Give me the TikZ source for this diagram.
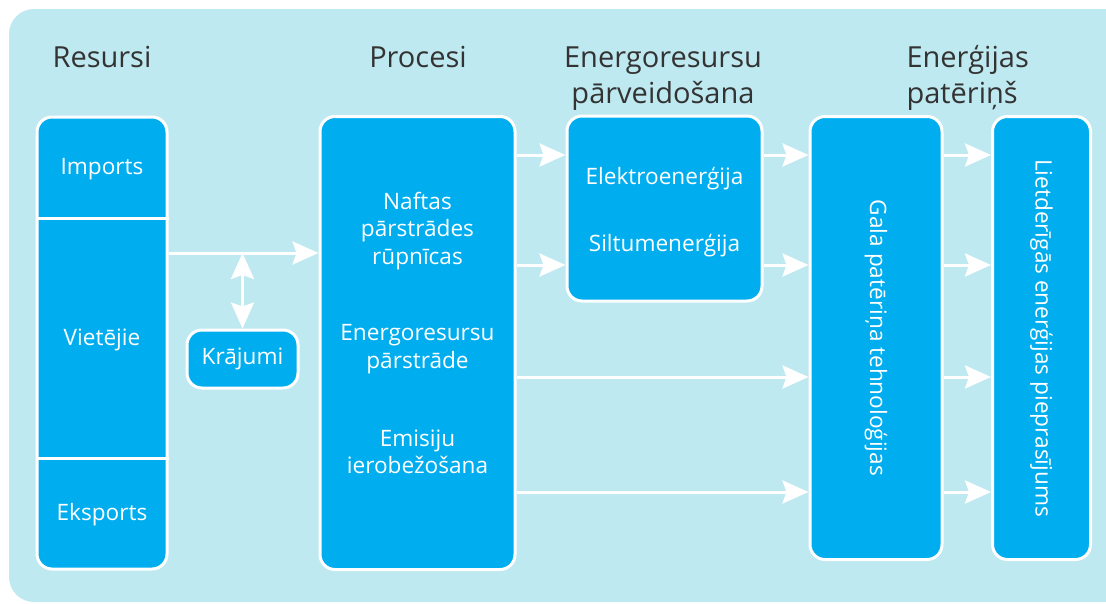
\documentclass[tikz,border=0pt]{standalone}
\usepackage{fontspec}
\setmainfont{Open Sans}
\usetikzlibrary{arrows.meta,positioning}
\definecolor{boxblue}{RGB}{0,174,239}
\definecolor{bgcyan}{RGB}{190,233,240}
\definecolor{headgray}{RGB}{51,51,51}

\begin{document}
\begin{tikzpicture}[x=1pt,y=-1pt]
      \tikzstyle{box} = [rectangle, rounded corners=15pt, draw=white, line width=3pt, fill=boxblue, inner sep=0pt]
      \tikzstyle{txt} = [text=white, align=center, font=\fontsize{22.6}{27.5}\selectfont]
      \tikzstyle{head} = [text=headgray, font=\fontsize{29}{36}\selectfont]
      \tikzstyle{arr} = [draw=white, line width=3pt, -{Stealth[length=26pt,width=23pt,inset=4pt]}]
      \tikzstyle{darr} = [draw=white, line width=3pt, {Stealth[length=26pt,width=23pt,inset=4pt]}-{Stealth[length=26pt,width=23pt,inset=4pt]}]

      \useasboundingbox (0,0) rectangle (1106,603);
      \fill[bgcyan, rounded corners=25pt] (9,9) rectangle (1130,602);

      % virsraksti
      \node[head] (h1) at (102,57) {Resursi};
      \node[head] (h2) at (418,57) {Procesi};
      \node[head, align=center] (h3) at (663,79) {Energoresursu\\pārveidošana};
      \node[head, align=left, anchor=west] (h4) at (903,78) {Enerģijas\\patēriņš};

      % bloki
      \node[box, minimum width=130pt, minimum height=452pt] (res) at (102,343) {};
      \draw[white, line width=3pt] (res.west |- 0,218) -- (res.east |- 0,218);
      \draw[white, line width=3pt] (res.west |- 0,458) -- (res.east |- 0,458);
      \node[txt] (imp) at (102,169) {Imports};
      \node[txt] (viet) at (102,340) {Vietējie};
      \node[txt] (eksp) at (102,515) {Eksports};

      \node[box, minimum width=111pt, minimum height=58pt, txt] (kraj) at (242.5,359) {Krājumi};

      \node[box, minimum width=195pt, minimum height=453pt] (proc) at (417.5,343) {};
      \node[txt] (naft) at (417.5,231) {Naftas\\pārstrādes\\rūpnīcas};
      \node[txt] (pars) at (417.5,349) {Energoresursu\\pārstrāde};
      \node[txt] (emis) at (417.5,452) {Emisiju\\ierobežošana};

      \node[box, minimum width=195pt, minimum height=185pt] (parv) at (664.5,208.5) {};
      \node[txt] (elek) at (664.5,179) {Elektroenerģija};
      \node[txt] (silt) at (664.5,246) {Siltumenerģija};

      \node[box, minimum width=132pt, minimum height=443pt] (gala) at (876,338) {};
      \node[txt, rotate=-90] at (gala.center) {Gala patēriņa tehnoloģijas};

      \node[box, minimum width=98pt, minimum height=443pt] (liet) at (1041.5,338) {};
      \node[txt, rotate=-90] at (liet.center) {Lietderīgās enerģijas pieprasījums};

      % bultas
      \coordinate (j) at (242.5,253);
      \draw[arr] (res.east |- j) -- (proc.west |- j);
      \draw[darr] (j) -- (kraj.north);

      \foreach \y in {155,265} {
        \draw[arr] (proc.east |- 0,\y) -- (parv.west |- 0,\y);
        \draw[arr] (parv.east |- 0,\y) -- (gala.west |- 0,\y);
      }
      \foreach \y in {377,492}
        \draw[arr] (proc.east |- 0,\y) -- (gala.west |- 0,\y);
      \foreach \y in {155,265,377,492}
        \draw[arr] (gala.east |- 0,\y) -- (liet.west |- 0,\y);
    \end{tikzpicture}
\end{document}
